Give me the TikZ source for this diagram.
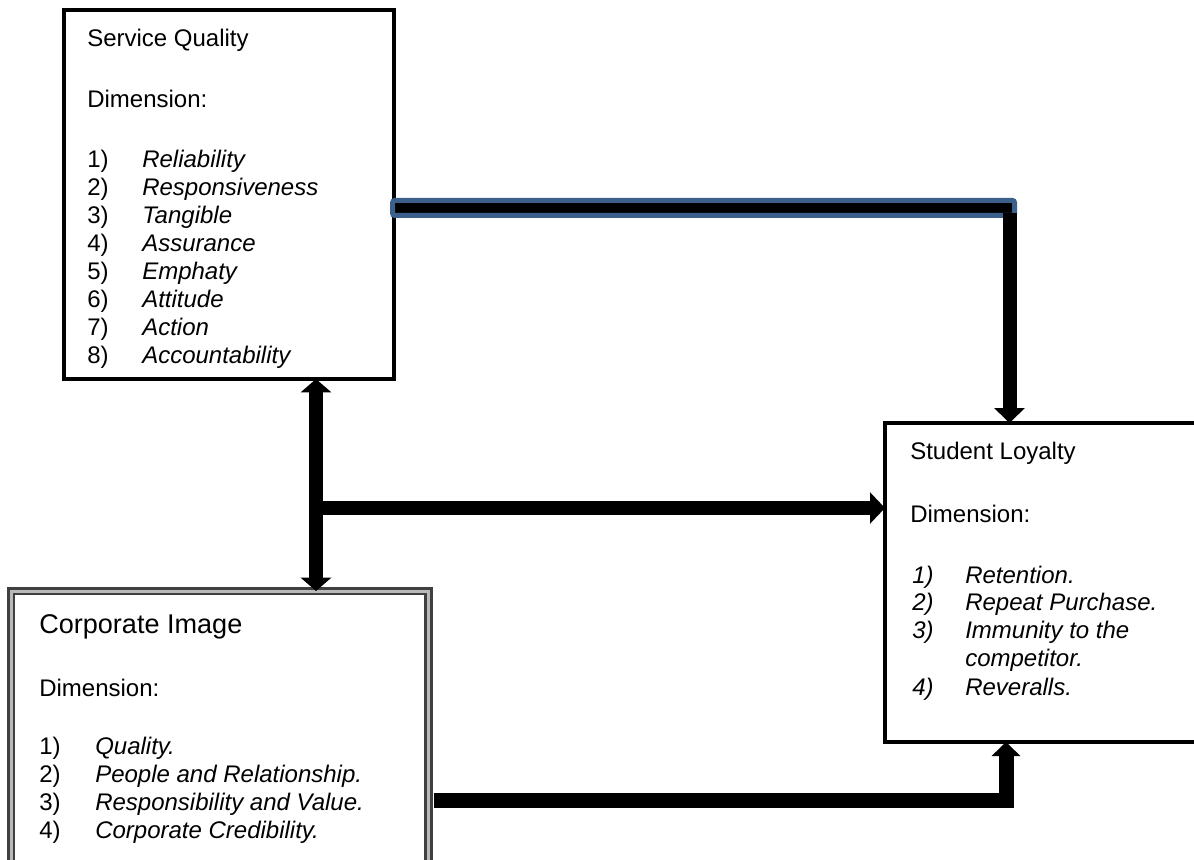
\documentclass[tikz,border=0pt]{standalone}
\usepackage{fontspec}
\setmainfont{Liberation Sans}
\usetikzlibrary{arrows.meta}
\definecolor{barblue}{RGB}{60,96,140}
\tikzset{
  box/.style={draw=black, line width=2.4pt, fill=white, inner sep=0pt, outer sep=0pt},
  dbox/.style={draw=black!75, double=gray!55, line width=1.9pt, double distance=2.25pt, fill=white, inner sep=0pt, outer sep=0pt},
  txt/.style={anchor=base west, inner sep=0pt, font=\fontsize{18}{21}\selectfont},
  itxt/.style={txt, font=\fontsize{18}{21}\selectfont\itshape},
  shaft/.style={line width=10.5pt, draw=black}
}
\begin{document}
\begin{tikzpicture}[x=0.75pt,y=-0.75pt]
\useasboundingbox (0,0) rectangle (1194,859);
% boxes
\node[box, minimum width=330*0.75pt, minimum height=369*0.75pt] (sq) at (229,194.5) {};
\node[box, minimum width=315*0.75pt, minimum height=319*0.75pt] (sl) at (1042.5,582.5) {};
\node[dbox, minimum width=417.5*0.75pt, minimum height=279*0.75pt] (ci) at (219.75,730.5) {};
% Service Quality text
\node[txt] (sqT) at (87,46.5) {Service Quality};
\node[txt] (sqD) at (87,107.5) {Dimension:};
\foreach \n/\t [count=\i from 0] in {1/Reliability,2/Responsiveness,3/Tangible,4/Assurance,5/Emphaty,6/Attitude,7/Action,8/Accountability}{
  \node[txt] (sqn\n) at (87,168+27.9*\i) {\n)};
  \node[itxt] (sqi\n) at (142,168+27.9*\i) {\t};
}
% Corporate Image text
\node[txt, font=\fontsize{20.3}{24}\selectfont] (ciT) at (39,633) {Corporate Image};
\node[txt] (ciD) at (39,696) {Dimension:};
\foreach \n/\t [count=\i from 0] in {1/Quality.,2/People and Relationship.,3/Responsibility and Value.,4/Corporate Credibility.}{
  \node[txt] (cin\n) at (39,754+28*\i) {\n)};
  \node[itxt] (cii\n) at (95,754+28*\i) {\t};
}
% Student Loyalty text
\node[txt] (slT) at (910,459) {Student Loyalty};
\node[txt] (slD) at (910,522) {Dimension:};
\node[itxt] (sln1) at (912,583) {1)};
\node[itxt] (sli1) at (965,583) {Retention.};
\node[itxt] (sln2) at (912,610.5) {2)};
\node[itxt] (sli2) at (965,610.5) {Repeat Purchase.};
\node[itxt] (sln3) at (912,638) {3)};
\node[itxt] (sli3) at (965,638) {Immunity to the};
\node[itxt] (sli3b) at (965,666) {competitor.};
\node[itxt] (sln4) at (912,695) {4)};
\node[itxt] (sli4) at (965,695) {Reveralls.};
% connectors
\coordinate (vx) at (316,0);
\coordinate (hy) at (0,508);
\coordinate (rx) at (1009.5,0);
\coordinate (bx) at (1006,0);
\coordinate (by) at (0,800.5);
% double arrow between SQ and CI
\draw[shaft, {Triangle[width=22.5pt,length=10pt]}-{Triangle[width=22.5pt,length=10pt]}] (sq.south -| vx) -- (ci.north -| vx);
% horizontal arrow to SL
\draw[shaft, -{Triangle[width=23pt,length=11.25pt]}] (vx |- hy) -- (sl.west |- hy);
% blue bar from SQ
\draw[fill=black, draw=barblue, line width=3.75pt, rounded corners=1.5pt] ([xshift=-1pt]sq.east |- 0,200.5) rectangle (1014.5,215.5);
\draw[shaft, -{Triangle[width=22.5pt,length=11.25pt]}] (rx |- 0,213) -- (rx |- sl.north);
% bottom arrow from CI
\draw[line width=11.25pt, miter limit=10, -{Triangle[width=21pt,length=10.5pt]}] ([xshift=4pt]ci.east |- by) -| (bx |- sl.south);
\end{tikzpicture}
\end{document}
